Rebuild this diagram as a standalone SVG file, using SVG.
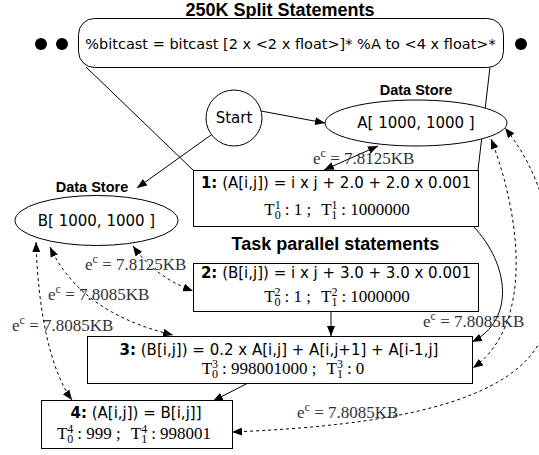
<svg xmlns="http://www.w3.org/2000/svg" width="539" height="455" viewBox="0 0 539 455">
<defs>
<marker id="ah" viewBox="0 0 10 8" refX="10" refY="4" markerWidth="10" markerHeight="8" markerUnits="userSpaceOnUse" orient="auto-start-reverse"><path d="M0,0 L10,4 L0,8 z" fill="#000"/></marker>
<style>
.ttl{font-family:"Liberation Sans",Arial,sans-serif;font-weight:bold;font-size:18px;text-anchor:middle}
.ds{font-family:"Liberation Sans",Arial,sans-serif;font-weight:bold;font-size:14.5px;text-anchor:middle}
.s{font-family:"DejaVu Sans",Verdana,sans-serif;font-size:15px;text-anchor:middle}
.m{font-family:"Liberation Serif","Times New Roman",serif;font-size:17px;text-anchor:middle}
.lbl{font-family:"Liberation Serif","Times New Roman",serif;font-size:17px;fill:#333}
.sup{font-size:12px}
.box{fill:#fff;stroke:#000;stroke-width:1}
.e{fill:none;stroke:#000;stroke-width:1}
.d{stroke-dasharray:3,3}
.ar{marker-end:url(#ah)}
.bi{marker-start:url(#ah);marker-end:url(#ah)}
</style>
</defs>
<rect width="539" height="455" fill="#fff"/>
<text class="ttl" x="280" y="16">250K Split Statements</text>
<text class="ttl" x="335.5" y="250">Task parallel statements</text>

<g id="connectors" class="e">
<path d="M86,67 L193,170"/>
<path d="M490,67 L478,170"/>
<path class="ar" d="M261,111 L325,123"/>
<path class="ar" d="M211,135 L137,188"/>
<path class="bi" d="M324,170 L378,146"/>
<path class="ar" d="M331,311 V336"/>
<path class="ar" d="M248,383 L213,401"/>
<path class="ar" d="M473,226 C510,265 515,320 472,342"/>
<path class="d bi" d="M491,139 C515,200 540,320 473,368"/>
<path class="d bi" d="M232,432 C380,426 520,405 545,330 C560,270 555,190 505,128"/>
<path class="d bi" d="M133,246 Q155,277 193,291"/>
<path class="d bi" d="M50,247 C70,290 110,320 173,335"/>
<path class="d bi" d="M36,242 C38,310 50,370 72,400"/>
</g>

<g id="labels">
<text class="lbl" x="313" y="164">e<tspan class="sup" dy="-7">c</tspan><tspan dy="7"> = 7.8125KB</tspan></text>
<text class="lbl" x="85" y="270">e<tspan class="sup" dy="-7">c</tspan><tspan dy="7"> = 7.8125KB</tspan></text>
<text class="lbl" x="48" y="300">e<tspan class="sup" dy="-7">c</tspan><tspan dy="7"> = 7.8085KB</tspan></text>
<text class="lbl" x="12" y="331">e<tspan class="sup" dy="-7">c</tspan><tspan dy="7"> = 7.8085KB</tspan></text>
<text class="lbl" x="423" y="327">e<tspan class="sup" dy="-7">c</tspan><tspan dy="7"> = 7.8085KB</tspan></text>
<text class="lbl" x="297" y="418">e<tspan class="sup" dy="-7">c</tspan><tspan dy="7"> = 7.8085KB</tspan></text>
</g>

<g id="dot1"><circle cx="41" cy="44" r="6"/></g>
<g id="dot2"><circle cx="62" cy="44" r="6"/></g>
<g id="dot3"><circle cx="521" cy="44" r="6"/></g>

<g id="split">
<rect class="box" x="78.5" y="18.5" width="425" height="49" rx="16"/>
<text class="s" x="290.5" y="49" style="font-size:14.5px">%bitcast = bitcast [2 x &lt;2 x float&gt;]* %A to &lt;4 x float&gt;*</text>
</g>

<g id="start">
<circle class="box" cx="234" cy="118" r="28"/>
<text class="s" x="234" y="123">Start</text>
</g>

<g id="storeA">
<text class="ds" x="416" y="95">Data Store</text>
<ellipse class="box" cx="416" cy="123" rx="91" ry="23"/>
<text class="s" x="416" y="128">A[ 1000, 1000 ]</text>
</g>

<g id="storeB">
<text class="ds" x="92" y="192">Data Store</text>
<ellipse class="box" cx="96.5" cy="220.5" rx="81.5" ry="25"/>
<text class="s" x="96.5" y="226">B[ 1000, 1000 ]</text>
</g>

<g id="s1">
<rect class="box" x="193.5" y="170.5" width="285" height="56"/>
<text class="s" x="336" y="188"><tspan font-weight="bold">1:</tspan> (A[i,j]) = i x j + 2.0 + 2.0 x 0.001</text>
<text class="m" x="337" y="215">T<tspan class="sup" dy="-6">1</tspan><tspan class="sup" dx="-6" dy="10">0</tspan><tspan dx="4" dy="-4">: 1 ;</tspan><tspan dx="10">T</tspan><tspan class="sup" dy="-6">1</tspan><tspan class="sup" dx="-6" dy="10">1</tspan><tspan dx="4" dy="-4">: 1000000</tspan></text>
</g>

<g id="s2">
<rect class="box" x="193.5" y="263.5" width="285" height="48"/>
<text class="s" x="336" y="278"><tspan font-weight="bold">2:</tspan> (B[i,j]) = i x j + 3.0 + 3.0 x 0.001</text>
<text class="m" x="337" y="302">T<tspan class="sup" dy="-6">2</tspan><tspan class="sup" dx="-6" dy="10">0</tspan><tspan dx="4" dy="-4">: 1 ;</tspan><tspan dx="10">T</tspan><tspan class="sup" dy="-6">2</tspan><tspan class="sup" dx="-6" dy="10">1</tspan><tspan dx="4" dy="-4">: 1000000</tspan></text>
</g>

<g id="s3">
<rect class="box" x="87.5" y="336.5" width="385" height="47"/>
<text class="s" x="279" y="355"><tspan font-weight="bold">3:</tspan> (B[i,j]) = 0.2 x A[i,j] + A[i,j+1] + A[i-1,j]</text>
<text class="m" x="283" y="374">T<tspan class="sup" dy="-6">3</tspan><tspan class="sup" dx="-6" dy="10">0</tspan><tspan dx="4" dy="-4">: 998001000 ;</tspan><tspan dx="10">T</tspan><tspan class="sup" dy="-6">3</tspan><tspan class="sup" dx="-6" dy="10">1</tspan><tspan dx="4" dy="-4">: 0</tspan></text>
</g>

<g id="s4">
<rect class="box" x="41.5" y="400.5" width="191" height="48"/>
<text class="s" x="136" y="418"><tspan font-weight="bold">4:</tspan> (A[i,j]) = B[i,j]]</text>
<text class="m" x="134" y="439">T<tspan class="sup" dy="-6">4</tspan><tspan class="sup" dx="-6" dy="10">0</tspan><tspan dx="4" dy="-4">: 999 ;</tspan><tspan dx="10">T</tspan><tspan class="sup" dy="-6">4</tspan><tspan class="sup" dx="-6" dy="10">1</tspan><tspan dx="4" dy="-4">: 998001</tspan></text>
</g>
</svg>
